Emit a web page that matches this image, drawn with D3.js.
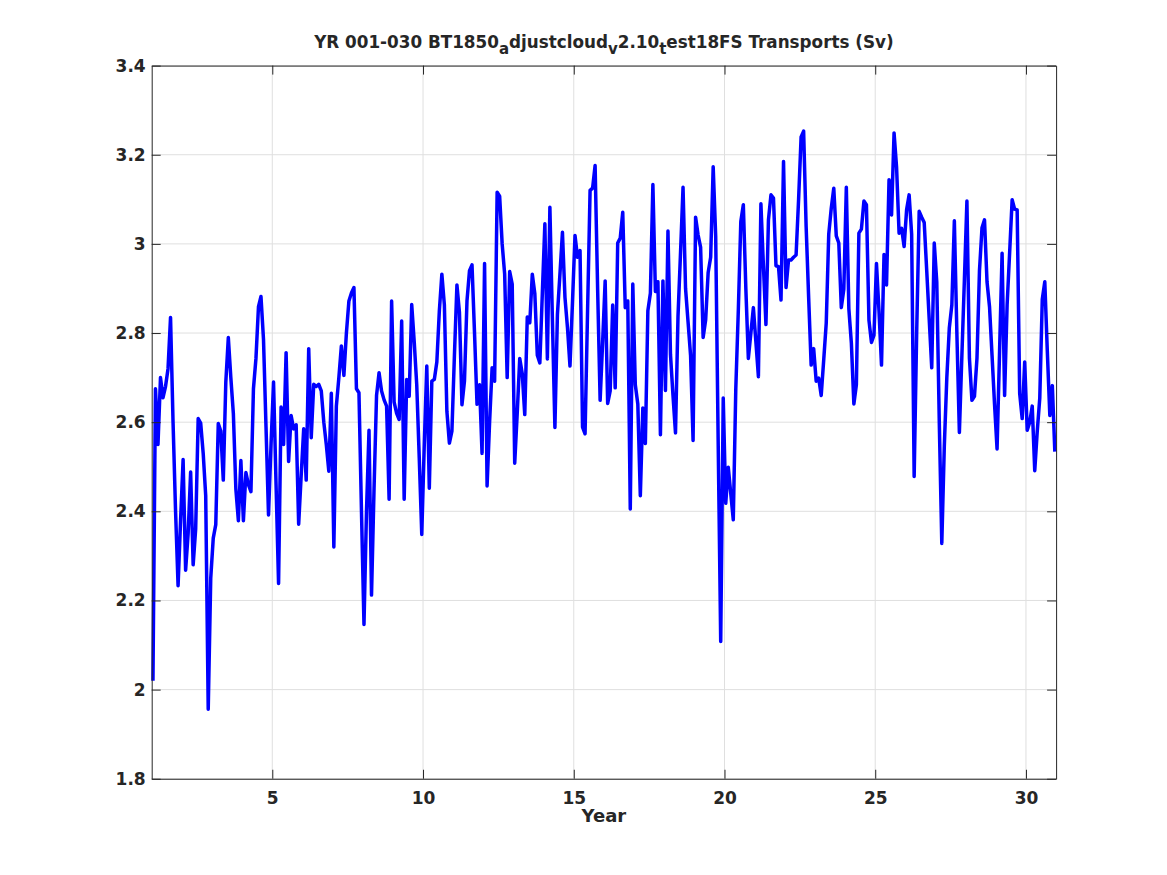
<!DOCTYPE html>
<html>
<head>
<meta charset="utf-8">
<script src="https://cdn.jsdelivr.net/npm/d3@7"></script>
<style>
  body { margin: 0; background: #fff; }
  text { font-family: "DejaVu Sans", sans-serif; font-weight: bold; fill: #262626; }
</style>
</head>
<body>
<script>
// monthly transport (Sv), years 1-30
var transport = [
  2.02, 2.675, 2.55, 2.70, 2.655, 2.68, 2.72, 2.835, 2.60, 2.40, 2.233, 2.38,
  2.516, 2.268, 2.35, 2.488, 2.28, 2.36, 2.608, 2.598, 2.53, 2.435, 1.956, 2.25,
  2.34, 2.37, 2.597, 2.58, 2.47, 2.69, 2.79, 2.70, 2.62, 2.45, 2.379, 2.514,
  2.379, 2.487, 2.46, 2.444, 2.675, 2.743, 2.859, 2.882, 2.786, 2.59, 2.392, 2.55,
  2.69, 2.46, 2.238, 2.634, 2.55, 2.756, 2.512, 2.615, 2.585, 2.594, 2.371, 2.48,
  2.585, 2.47, 2.765, 2.565, 2.685, 2.68, 2.685, 2.67, 2.60, 2.55, 2.49, 2.665,
  2.32, 2.636, 2.70, 2.771, 2.705, 2.80, 2.872, 2.89, 2.902, 2.675, 2.666, 2.40,
  2.146, 2.40, 2.582, 2.212, 2.45, 2.66, 2.711, 2.67, 2.65, 2.636, 2.427, 2.872,
  2.645, 2.62, 2.606, 2.827, 2.427, 2.696, 2.658, 2.864, 2.78, 2.684, 2.52, 2.348,
  2.55, 2.726, 2.452, 2.692, 2.696, 2.735, 2.85, 2.932, 2.863, 2.624, 2.553, 2.58,
  2.75, 2.908, 2.846, 2.639, 2.692, 2.872, 2.94, 2.953, 2.80, 2.64, 2.684, 2.53,
  2.956, 2.457, 2.60, 2.722, 2.692, 3.116, 3.107, 3.0, 2.932, 2.70, 2.938, 2.91,
  2.508, 2.62, 2.743, 2.709, 2.617, 2.836, 2.823, 2.932, 2.889, 2.75, 2.733, 2.89,
  3.045, 2.742, 3.082, 2.83, 2.588, 2.842, 2.932, 3.026, 2.88, 2.812, 2.726, 2.87,
  3.019, 2.97, 2.985, 2.589, 2.574, 2.85, 3.12, 3.125, 3.176, 2.90, 2.649, 2.78,
  2.917, 2.642, 2.67, 2.863, 2.677, 3.002, 3.013, 3.071, 2.857, 2.872, 2.405, 2.91,
  2.684, 2.641, 2.435, 2.632, 2.552, 2.85, 2.889, 3.133, 2.893, 2.915, 2.572, 2.917,
  2.671, 3.029, 2.752, 2.66, 2.576, 2.838, 2.98, 3.127, 2.90, 2.825, 2.75, 2.559,
  3.06, 3.02, 2.992, 2.79, 2.829, 2.936, 2.97, 3.173, 3.017, 2.55, 2.108, 2.654,
  2.418, 2.499, 2.44, 2.381, 2.675, 2.85, 3.05, 3.088, 2.90, 2.743, 2.80, 2.857,
  2.78, 2.702, 3.09, 2.95, 2.819, 3.054, 3.11, 3.103, 2.951, 2.949, 2.874, 3.185,
  2.902, 2.964, 2.964, 2.97, 2.975, 3.10, 3.24, 3.253, 3.039, 2.88, 2.728, 2.765,
  2.692, 2.699, 2.66, 2.74, 2.822, 3.022, 3.08, 3.125, 3.018, 3.002, 2.857, 2.898,
  3.127, 2.855, 2.778, 2.641, 2.684, 3.024, 3.033, 3.096, 3.088, 2.829, 2.779, 2.795,
  2.956, 2.85, 2.728, 2.976, 2.908, 3.144, 3.065, 3.249, 3.172, 3.024, 3.035, 2.994,
  3.077, 3.11, 3.022, 2.478, 2.80, 3.073, 3.06, 3.048, 2.94, 2.83, 2.722, 3.002,
  2.915, 2.60, 2.328, 2.546, 2.70, 2.812, 2.863, 3.052, 2.80, 2.577, 2.75, 2.92,
  3.096, 2.743, 2.649, 2.658, 2.743, 2.94, 3.036, 3.054, 2.915, 2.859, 2.75, 2.64,
  2.54, 2.76, 2.979, 2.66, 2.863, 2.98, 3.099, 3.078, 3.076, 2.665, 2.608, 2.735,
  2.582, 2.60, 2.636, 2.491, 2.58, 2.654, 2.876, 2.915, 2.76, 2.615, 2.682, 2.534
];
var firstYear = 1;
var xTicks = [5, 10, 15, 20, 25, 30];
var yTicks = [1.8, 2, 2.2, 2.4, 2.6, 2.8, 3, 3.2, 3.4];
// title pieces: [text, is subscript]
var titleParts = [
  ["YR 001-030 BT1850", false], ["a", true], ["djustcloud", false], ["v", true],
  ["2.10", false], ["t", true], ["est18FS Transports (Sv)", false]
];

var width = 1167, height = 875;
var plotLeft = 151.7, plotRight = 1056.1, plotTop = 65.6, plotBottom = 778.75;

// mid-month time stamps
var years = transport.map(function(d, i) { return firstYear + (i + 0.5) / 12; });

var xScale = d3.scaleLinear().domain([1, 31]).range([plotLeft, plotRight]);
var yScale = d3.scaleLinear().domain([1.8, 3.4]).range([plotBottom, plotTop]);

var svg = d3.select("body").append("svg")
    .attr("width", width)
    .attr("height", height);

svg.append("rect").attr("width", width).attr("height", height).attr("fill", "#fff");

// grid
var grid = svg.append("g").attr("stroke", "#dfdfdf").attr("stroke-width", 1);
grid.selectAll("line.gx")
  .data(xTicks)
  .enter().append("line")
    .attr("class", "gx")
    .attr("x1", function(d) { return xScale(d); })
    .attr("x2", function(d) { return xScale(d); })
    .attr("y1", plotTop).attr("y2", plotBottom);
grid.selectAll("line.gy")
  .data(yTicks)
  .enter().append("line")
    .attr("class", "gy")
    .attr("y1", function(d) { return yScale(d); })
    .attr("y2", function(d) { return yScale(d); })
    .attr("x1", plotLeft).attr("x2", plotRight);

// data line
var line = d3.line()
    .x(function(d, i) { return xScale(years[i]); })
    .y(function(d) { return yScale(d); });

svg.append("path")
    .datum(transport)
    .attr("fill", "none")
    .attr("stroke", "#0000ff")
    .attr("stroke-width", 3.5)
    .attr("stroke-linejoin", "round")
    .attr("d", line);

// axes, ticks pointing inward like matlab
function styleAxis(g) {
  g.selectAll("path, line").attr("stroke", "#262626").attr("stroke-width", 1);
  g.selectAll("text").attr("font-size", "17px").attr("font-family", null).attr("fill", "#262626");
}

svg.append("g")
    .attr("transform", "translate(0," + plotBottom + ")")
    .call(d3.axisBottom(xScale).tickValues(xTicks).tickSize(-9).tickSizeOuter(0).tickPadding(13)
      .tickFormat(function(d) { return String(d); }))
    .call(styleAxis);

svg.append("g")
    .attr("transform", "translate(" + plotLeft + ",0)")
    .call(d3.axisLeft(yScale).tickValues(yTicks).tickSize(-9).tickSizeOuter(0).tickPadding(6)
      .tickFormat(function(d) { return String(d); }))
    .call(styleAxis);

svg.append("g")
    .attr("transform", "translate(0," + plotTop + ")")
    .call(d3.axisTop(xScale).tickValues(xTicks).tickSize(-9).tickSizeOuter(0).tickFormat(""))
    .call(styleAxis);

svg.append("g")
    .attr("transform", "translate(" + plotRight + ",0)")
    .call(d3.axisRight(yScale).tickValues(yTicks).tickSize(-9).tickSizeOuter(0).tickFormat(""))
    .call(styleAxis);

// x label
svg.append("text")
    .attr("x", (plotLeft + plotRight) / 2)
    .attr("y", 822)
    .attr("text-anchor", "middle")
    .attr("font-size", "18px")
    .text("Year");

// title with tex-style subscripts
var title = svg.append("text")
    .attr("x", (plotLeft + plotRight) / 2)
    .attr("y", 48)
    .attr("text-anchor", "middle")
    .attr("font-size", "16.8px");

var shift = 0;
titleParts.forEach(function(p) {
  var dy = p[1] ? 6 - shift : -shift;
  shift = p[1] ? 6 : 0;
  title.append("tspan")
      .attr("dy", dy)
      .attr("font-size", p[1] ? "15px" : null)
      .text(p[0]);
});
</script>
</body>
</html>
